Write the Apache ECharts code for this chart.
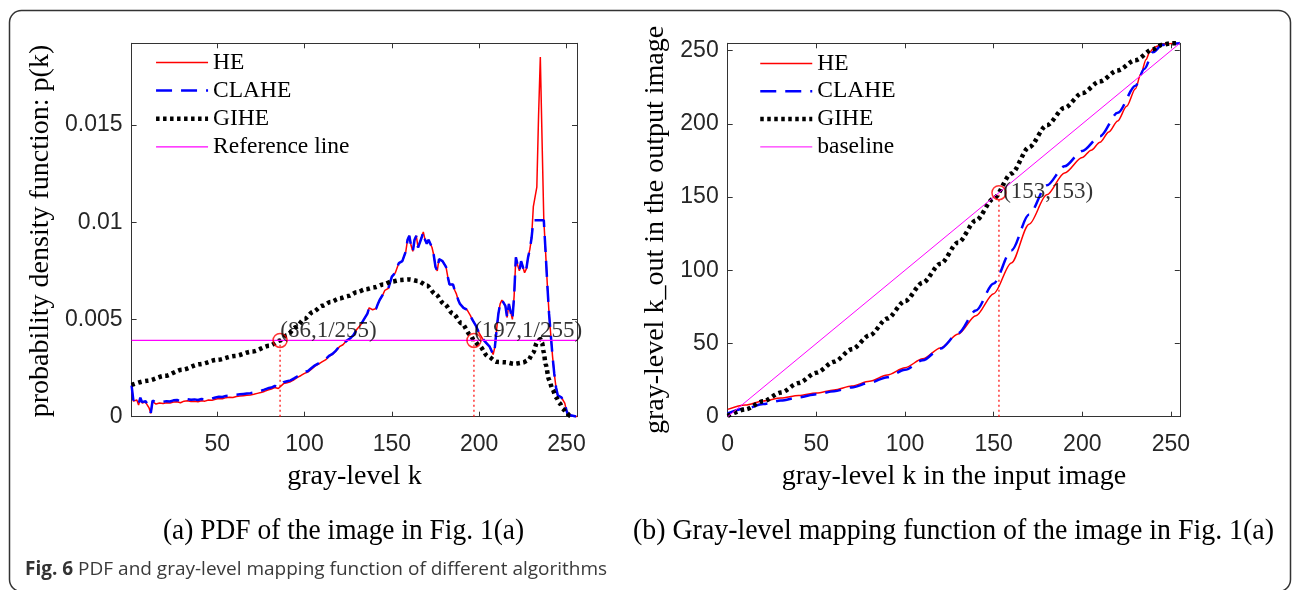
<!DOCTYPE html>
<html><head><meta charset="utf-8">
<script src="https://cdn.jsdelivr.net/npm/echarts@6/dist/echarts.min.js"></script>
<style>html,body{margin:0;padding:0;background:#fff}#c{width:1293px;height:590px}</style>
</head><body><div id="c"></div>
<script>
// ---------- data: (a) PDF ----------
const pdfXTicks = [50, 100, 150, 200, 250];
const pdfYTicks = [0, 0.005, 0.01, 0.015];
const pdfYTickLabels = ['0', '0.005', '0.01', '0.015'];
const pdfHE = [[1,0.00155],[2,0.0008],[3,0.0007],[4,0.00086],[5,0.0006],[6,0.00094],[7,0.0007],[8,0.0006],[9,0.00075],[10,0.0006],[11,0.00045],[12,0.00017],[13,0.00077],[14,0.0007],[15,0.00065],[17,0.0007],[19,0.00068],[21,0.00072],[23,0.0007],[25,0.00075],[27,0.00077],[29,0.00072],[31,0.0008],[33,0.00082],[35,0.00078],[37,0.0008],[39,0.00077],[41,0.00082],[43,0.0008],[45,0.00086],[47,0.00084],[49,0.0009],[51,0.00094],[53,0.00092],[55,0.00098],[57,0.001],[59,0.00099],[61,0.00104],[63,0.00106],[65,0.00108],[67,0.0011],[69,0.00112],[71,0.00115],[73,0.0012],[75,0.00124],[77,0.0013],[79,0.00137],[81,0.00142],[83,0.0015],[85,0.00145],[86,0.0015],[88,0.0017],[90,0.00175],[92,0.0018],[94,0.0019],[96,0.00202],[98,0.00212],[100,0.00223],[102,0.0023],[104,0.00245],[106,0.0026],[108,0.0027],[110,0.00282],[112,0.00292],[114,0.0031],[116,0.0032],[118,0.00338],[120,0.0036],[122,0.0037],[124,0.0039],[126,0.00402],[128,0.0042],[130,0.0045],[132,0.0047],[134,0.005],[136,0.0053],[137,0.0056],[138,0.0057],[139,0.0055],[140,0.0054],[141,0.00556],[142,0.0058],[143,0.006],[144,0.0061],[145,0.0063],[146,0.0065],[147,0.0064],[148,0.0066],[149,0.0069],[150,0.0072],[151,0.0071],[152,0.0074],[153,0.0075],[154,0.0079],[155,0.0078],[156,0.008],[157,0.0079],[158,0.0085],[159,0.0091],[160,0.0093],[161,0.0088],[162,0.0085],[163,0.0091],[164,0.0093],[165,0.0087],[166,0.0086],[167,0.0092],[168,0.0095],[169,0.0091],[170,0.0089],[171,0.0091],[172,0.009],[173,0.0087],[174,0.0083],[175,0.0077],[176,0.0075],[177,0.0081],[178,0.0082],[179,0.008],[180,0.0079],[181,0.0077],[182,0.0072],[183,0.0068],[184,0.0069],[185,0.0068],[186,0.0065],[187,0.0063],[188,0.006],[189,0.0058],[190,0.0057],[191,0.0056],[192,0.0055],[193,0.0055],[194,0.0054],[195,0.0052],[196,0.005],[197,0.0049],[198,0.0047],[199,0.0045],[200,0.0043],[202,0.004],[204,0.0038],[206,0.0036],[207,0.0034],[208,0.0032],[209,0.0036],[210,0.0045],[211,0.0053],[212,0.0058],[213,0.006],[214,0.0059],[215,0.0057],[216,0.0051],[217,0.0058],[218,0.0057],[219,0.005],[220,0.0062],[221,0.0082],[222,0.0078],[223,0.0075],[224,0.008],[225,0.0077],[226,0.0074],[227,0.0076],[228,0.0082],[229,0.0086],[230,0.0092],[231,0.0108],[232,0.0113],[233,0.0118],[234,0.0155],[235,0.0185],[236,0.0142],[237,0.0101],[238,0.0085],[239,0.0068],[240,0.0053],[241,0.0042],[242,0.0031],[243,0.0022],[244,0.0015],[245,0.0011],[246,0.00105],[247,0.001],[248,0.00095],[249,0.0007],[250,0.0003],[251,0.0001],[252,0],[256,0]];
const pdfCLAHE = [[1,0.0016],[2,0.00085],[3,0.00075],[4,0.0009],[5,0.00065],[6,0.00098],[7,0.00075],[8,0.00065],[9,0.0008],[10,0.00065],[11,0.0005],[12,0.0002],[13,0.00082],[14,0.00078],[15,0.00074],[17,0.00078],[19,0.00076],[21,0.0008],[23,0.00078],[25,0.00084],[27,0.00086],[29,0.0008],[31,0.00088],[33,0.0009],[35,0.00087],[37,0.00089],[39,0.00086],[41,0.00091],[43,0.00089],[45,0.00095],[47,0.00093],[49,0.00099],[51,0.00103],[53,0.00101],[55,0.00107],[57,0.00109],[59,0.00108],[61,0.00113],[63,0.00115],[65,0.00117],[67,0.00119],[69,0.00121],[71,0.00124],[73,0.00129],[75,0.00133],[77,0.00139],[79,0.00146],[81,0.0015],[83,0.00158],[85,0.00152],[86,0.00158],[88,0.00177],[90,0.00182],[92,0.00187],[94,0.00197],[96,0.00208],[98,0.00218],[100,0.00229],[102,0.00235],[104,0.0025],[106,0.00264],[108,0.00274],[110,0.00286],[112,0.00295],[114,0.00313],[116,0.00323],[118,0.0034],[120,0.00362],[122,0.0037],[124,0.0039],[126,0.00402],[128,0.0042],[130,0.0045],[132,0.0047],[134,0.005],[136,0.0053],[137,0.0056],[138,0.0057],[139,0.0055],[140,0.0054],[141,0.00556],[142,0.0058],[143,0.006],[144,0.0061],[145,0.0063],[146,0.0065],[147,0.0064],[148,0.0066],[149,0.0069],[150,0.0072],[151,0.0071],[152,0.0074],[153,0.0075],[154,0.0079],[155,0.0078],[156,0.008],[157,0.0079],[158,0.0085],[159,0.0091],[160,0.0093],[161,0.0088],[162,0.0085],[163,0.0091],[164,0.0093],[165,0.0087],[166,0.0086],[167,0.0092],[168,0.0095],[169,0.0091],[170,0.0089],[171,0.0091],[172,0.009],[173,0.0087],[174,0.0083],[175,0.0077],[176,0.0075],[177,0.0081],[178,0.0082],[179,0.008],[180,0.0079],[181,0.0077],[182,0.0072],[183,0.0068],[184,0.0069],[185,0.0068],[186,0.0065],[187,0.0063],[188,0.006],[189,0.0058],[190,0.0057],[191,0.0056],[192,0.0055],[193,0.0055],[194,0.0054],[195,0.0052],[196,0.005],[197,0.0049],[198,0.0047],[199,0.0045],[200,0.0043],[202,0.004],[204,0.0038],[206,0.0036],[207,0.0034],[208,0.0032],[209,0.0036],[210,0.0045],[211,0.0053],[212,0.0058],[213,0.006],[214,0.0059],[215,0.0057],[216,0.0051],[217,0.0058],[218,0.0057],[219,0.005],[220,0.0062],[221,0.0082],[222,0.0078],[223,0.0075],[224,0.008],[225,0.0077],[226,0.0074],[227,0.0076],[228,0.0082],[229,0.0086],[230,0.0092],[231,0.0101],[232,0.0101],[233,0.0101],[234,0.0101],[235,0.0101],[236,0.0101],[237,0.0101],[238,0.0085],[239,0.0068],[240,0.0053],[241,0.0042],[242,0.0031],[243,0.0022],[244,0.0015],[245,0.0011],[246,0.00105],[247,0.001],[248,0.00095],[249,0.0007],[250,0.0003],[251,0.0001],[252,0],[256,0]];
const pdfGIHE = [[1,0.00163],[10,0.00185],[20,0.0021],[30,0.00242],[40,0.0027],[50,0.00292],[60,0.00312],[70,0.00335],[80,0.00365],[86,0.00392],[90,0.0042],[95,0.0046],[100,0.00503],[105,0.0054],[110,0.0057],[115,0.0059],[120,0.00608],[125,0.0062],[130,0.0064],[135,0.00655],[140,0.00665],[145,0.0068],[150,0.00695],[155,0.00703],[160,0.00706],[165,0.00698],[170,0.00675],[175,0.0063],[180,0.0058],[185,0.0053],[190,0.0048],[195,0.0042],[197,0.00392],[200,0.00365],[205,0.0031],[210,0.00282],[215,0.0028],[220,0.00272],[225,0.00278],[228,0.0029],[231,0.0033],[233,0.0038],[235,0.004],[236,0.0038],[237,0.0033],[238,0.0027],[240,0.0019],[242,0.0014],[244,0.001],[246,0.0007],[248,0.0004],[250,0.0002],[252,0.00005],[253,0]];
const pdfRefLine = [[1, 1/255], [256, 1/255]];
const pdfMarkK = [86, 197];
const pdfMarkP = [1/255, 1/255];
const pdfMarkText = ['(86,1/255)', '(197,1/255)'];

// ---------- data: (b) mapping ----------
const mapTicks = [0, 50, 100, 150, 200, 250];
const mapHE = [[0,5],[10,8],[20,10.8],[30,12.8],[40,14.5],[50,16.2],[60,18.3],[70,21],[80,24.2],[90,28.5],[100,33.5],[110,39.5],[120,47],[130,56.5],[140,69],[150,84],[160,105],[170,131.5],[180,151.5],[190,166.5],[200,177],[205,182],[210,187.5],[215,194.5],[220,202],[225,212],[230,224],[233,234],[236,244],[238,249],[241,252.5],[245,254.2],[250,254.8],[255,255]];
const mapCLAHE = [[0,2.3],[10,5.5],[20,8.6],[30,11],[40,13.2],[50,15.3],[60,17.4],[70,20],[80,23.2],[90,27],[100,32],[110,38.5],[120,46.5],[130,57],[140,72.5],[150,91],[160,113.5],[170,138],[180,158],[190,171],[200,181.5],[210,191.5],[220,207.5],[230,226],[235,237.5],[240,249],[245,253.8],[250,254.8],[255,255]];
const mapGIHE = [[0,0.5],[10,5],[20,10.5],[30,16.5],[40,23],[50,30],[60,37.5],[70,46],[80,55.5],[90,67],[100,79],[110,91.5],[120,104.5],[130,119],[140,134],[150,149],[160,166],[170,184],[180,199],[190,211],[200,221],[210,229],[220,236.5],[230,243.5],[240,251],[245,254],[250,255],[255,255]];
const mapBaseline = [[0, 0], [255, 255]];
const mapMarkK = [153];
const mapMarkV = [153];
const mapMarkText = ['(153,153)'];

// ---------- styling ----------
const SERIF = '"Liberation Serif", "Times New Roman", serif';
const SANS = '"Liberation Sans", Arial, Helvetica, sans-serif';
const AX = '#333333';
const styleHE = {color: '#ff0000', width: 1.5};
const styleCL = {color: '#0000ff', width: 2.5, type: [16, 9]};
const styleGI = {color: '#000000', width: 4.5, type: [3.5, 3.5], cap: 'butt'};
const styleRef = {color: '#ff00ff', width: 1.3};
const styleBase = {color: '#ff00ff', width: 1};

function xAx(grid, min, max, ticks, pos, showLabel) {
  return {
    gridIndex: grid, type: 'value', min: min, max: max, position: pos,
    axisLine: {show: true, onZero: false, lineStyle: {color: AX, width: 1}},
    axisTick: {show: true, inside: true, length: 5, customValues: ticks, lineStyle: {color: AX, width: 1}},
    axisLabel: {show: showLabel, customValues: ticks, margin: 16, fontFamily: SANS, fontSize: 23, color: '#262626'},
    splitLine: {show: false}
  };
}
function yAx(grid, min, max, ticks, labels, pos, showLabel) {
  return {
    gridIndex: grid, type: 'value', min: min, max: max, position: pos,
    axisLine: {show: true, onZero: false, lineStyle: {color: AX, width: 1}},
    axisTick: {show: true, inside: true, length: 5, customValues: ticks, lineStyle: {color: AX, width: 1}},
    axisLabel: {show: showLabel, customValues: ticks, margin: 9, fontFamily: SANS, fontSize: 23, color: '#262626',
      formatter: function (v) { const i = ticks.indexOf(v); return labels && i >= 0 ? labels[i] : String(v); }},
    splitLine: {show: false}
  };
}
function lineS(name, xi, data, ls, extra) {
  return Object.assign({
    name: name, type: 'line', xAxisIndex: xi, yAxisIndex: xi, data: data,
    symbol: 'none', showSymbol: false, lineStyle: ls, itemStyle: {color: ls.color}, color: ls.color,
    animation: false, clip: true, silent: true
  }, extra || {});
}
function markSeries(xi, ks, vs, texts, labelPos) {
  return {
    type: 'scatter', xAxisIndex: xi, yAxisIndex: xi,
    data: ks.map((k, i) => [k, vs[i]]),
    symbol: 'circle', symbolSize: 14, z: 5,
    itemStyle: {color: 'rgba(0,0,0,0)', borderColor: '#ff0000', borderWidth: 1.5},
    label: {show: true, position: labelPos, align: 'left', verticalAlign: 'middle',
      formatter: p => texts[p.dataIndex], fontFamily: SERIF, fontSize: 23, color: '#000'},
    animation: false, silent: true
  };
}
function dropSeries(xi, k, v) {
  return lineS('', xi, [[k, 0], [k, v]], {color: '#ff0000', width: 1.2, type: [2, 3]}, {z: 1});
}

const SM = {smooth: 0.3, smoothMonotone: 'x'};
const series = [
  lineS('HE', 0, pdfHE, styleHE),
  lineS('CLAHE', 0, pdfCLAHE, styleCL),
  lineS('GIHE', 0, pdfGIHE, styleGI, SM),
  lineS('Reference line', 0, pdfRefLine, styleRef),
  lineS('HE', 2, mapHE, styleHE, SM),
  lineS('CLAHE', 2, mapCLAHE, styleCL, SM),
  lineS('GIHE', 2, mapGIHE, styleGI, SM),
  lineS('baseline', 2, mapBaseline, styleBase)
];
pdfMarkK.forEach((k, i) => series.push(dropSeries(0, k, pdfMarkP[i])));
mapMarkK.forEach((k, i) => series.push(dropSeries(2, k, mapMarkV[i])));
series.push(markSeries(0, pdfMarkK, pdfMarkP, pdfMarkText, [8, -2]));
series.push(markSeries(2, mapMarkK, mapMarkV, mapMarkText, [12, 7.5]));

function legendItems(names, styles) {
  return names.map((n, i) => ({name: n, lineStyle: Object.assign({}, styles[i]), itemStyle: {opacity: 0}}));
}
const legTS = {fontFamily: SERIF, fontSize: 23.5, color: '#000'};
const legCommon = {orient: 'vertical', padding: 0, itemWidth: 52, itemHeight: 14, textStyle: legTS,
  selectedMode: false, itemStyle: {opacity: 0}};

const option = {
  animation: false,
  backgroundColor: '#ffffff',
  grid: [
    {left: 131.6, top: 43.3, width: 445.4, height: 373.4, containLabel: false},
    {left: 727.7, top: 43.3, width: 452.1, height: 373.4, containLabel: false}
  ],
  xAxis: [
    xAx(0, 1, 256, pdfXTicks, 'bottom', true),
    xAx(0, 1, 256, pdfXTicks, 'top', false),
    xAx(1, 0, 255, mapTicks, 'bottom', true),
    xAx(1, 0, 255, mapTicks, 'top', false)
  ],
  yAxis: [
    yAx(0, 0, 0.0192, pdfYTicks, pdfYTickLabels, 'left', true),
    yAx(0, 0, 0.0192, pdfYTicks, pdfYTickLabels, 'right', false),
    yAx(1, 0, 255, mapTicks, null, 'left', true),
    yAx(1, 0, 255, mapTicks, null, 'right', false)
  ],
  legend: [
    Object.assign({data: legendItems(['HE', 'CLAHE', 'GIHE', 'Reference line'], [styleHE, styleCL, styleGI, styleRef]),
      left: 153.8, top: 50.5, itemGap: 4.1}, legCommon),
    Object.assign({data: legendItems(['HE', 'CLAHE', 'GIHE', 'baseline'], [styleHE, styleCL, styleGI, styleBase]),
      left: 758, top: 51.5, itemGap: 3.8}, legCommon)
  ],
  graphic: [
    {type: 'rect', shape: {x: 9.5, y: 10.5, width: 1281, height: 581, r: 12},
     style: {fill: 'none', stroke: '#333', lineWidth: 1.5}, silent: true, z: -10},
    {type: 'text', x: 41, y: 231, rotation: Math.PI / 2,
     style: {text: 'probability density function: p(k)', fontFamily: SERIF, fontSize: 28, fill: '#000', align: 'center', verticalAlign: 'middle'}},
    {type: 'text', x: 656, y: 230, rotation: Math.PI / 2,
     style: {text: 'gray-level k_out in the output image', fontFamily: SERIF, fontSize: 28, fill: '#000', align: 'center', verticalAlign: 'middle'}},
    {type: 'text', x: 354.4, y: 477, style: {text: 'gray-level k', fontFamily: SERIF, fontSize: 28, fill: '#000', align: 'center', verticalAlign: 'middle'}},
    {type: 'text', x: 954, y: 477, style: {text: 'gray-level k in the input image', fontFamily: SERIF, fontSize: 28, fill: '#000', align: 'center', verticalAlign: 'middle'}},
    {type: 'text', x: 343.5, y: 531, scaleX: 0.93, style: {text: '(a) PDF of the image in Fig. 1(a)', fontFamily: SERIF, fontSize: 29.5, fill: '#000', align: 'center', verticalAlign: 'middle'}},
    {type: 'text', x: 953.5, y: 531, scaleX: 0.945, style: {text: '(b) Gray-level mapping function of the image in Fig. 1(a)', fontFamily: SERIF, fontSize: 29.5, fill: '#000', align: 'center', verticalAlign: 'middle'}},
    {type: 'text', x: 25, y: 570, style: {
      text: '{b|Fig. 6} PDF and gray-level mapping function of different algorithms',
      rich: {b: {fontWeight: 'bold', fontFamily: '"Open Sans", sans-serif', fontSize: 19, fill: '#333'}},
      fontFamily: '"Open Sans", sans-serif', fontSize: 19, fill: '#3a3a3a', align: 'left', verticalAlign: 'middle'}}
  ],
  series: series
};
const chart = echarts.init(document.getElementById('c'), null, {renderer: 'canvas'});
chart.setOption(option);
</script>
</body></html>
